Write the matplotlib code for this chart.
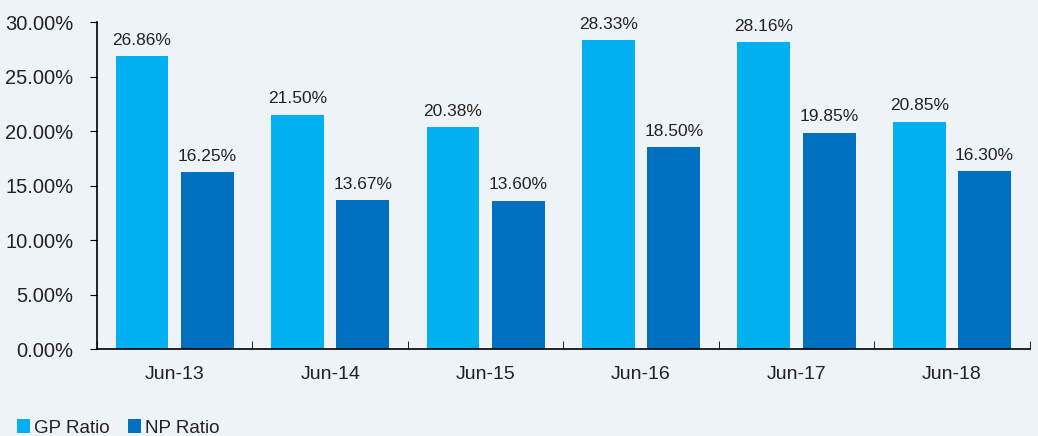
import numpy as np
import matplotlib
matplotlib.use("Agg")
import matplotlib.pyplot as plt
from matplotlib.ticker import FuncFormatter, FixedLocator

plt.rcParams['font.family'] = ['Liberation Sans', 'DejaVu Sans']

years = ["Jun-13", "Jun-14", "Jun-15", "Jun-16", "Jun-17", "Jun-18"]
gp = [26.86, 21.50, 20.38, 28.33, 28.16, 20.85]
np_ratio = [16.25, 13.67, 13.60, 18.50, 19.85, 16.30]

c_gp = "#00B0F0"
c_np = "#0070C0"
txt = "#222222"
bg = "#EEF3F8"

fig = plt.figure(figsize=(10.38, 4.36), dpi=100)
fig.patch.set_facecolor(bg)
ax = fig.add_axes([0.0934, 0.1995, 0.8986, 0.75])
ax.set_facecolor("none")

x = np.arange(len(years))
w = 0.34
b1 = ax.bar(x - 0.21, gp, w, color=c_gp, label="GP Ratio")
b2 = ax.bar(x + 0.21, np_ratio, w, color=c_np, label="NP Ratio")

for bars, vals in ((b1, gp), (b2, np_ratio)):
    for b, v in zip(bars, vals):
        ax.annotate(f"{v:.2f}%", (b.get_x() + b.get_width() / 2, v),
                    xytext=(0, 6), textcoords="offset points",
                    ha="center", va="bottom", fontsize=12.5, color=txt)

ax.set_xlim(-0.5, len(years) - 0.5)
ax.set_ylim(0, 30)
ax.set_yticks(np.arange(0, 30.1, 5))
ax.yaxis.set_major_formatter(FuncFormatter(lambda v, p: f"{v:.2f}%"))
ax.set_xticks(x)
ax.set_xticklabels(years)
ax.xaxis.set_minor_locator(FixedLocator(np.arange(-0.5, len(years), 1)))
ax.tick_params(axis="x", which="major", length=0, pad=12, labelsize=14, labelcolor=txt)
ax.tick_params(axis="x", which="minor", direction="in", length=6, color="black")
ax.tick_params(axis="y", direction="out", length=5, labelsize=14.5, labelcolor=txt, pad=12)

for s in ("top", "right"):
    ax.spines[s].set_visible(False)
for s in ("left", "bottom"):
    ax.spines[s].set_color("black")
    ax.spines[s].set_linewidth(1.2)

fig.legend(handles=[b1, b2], loc="lower left", bbox_to_anchor=(0.0, -0.04),
           ncol=2, frameon=False, fontsize=13.5, handlelength=0.7, handleheight=0.7,
           handletextpad=0.2, columnspacing=1.0, labelcolor=txt)

fig.savefig("out.png", dpi=100, facecolor=bg)
